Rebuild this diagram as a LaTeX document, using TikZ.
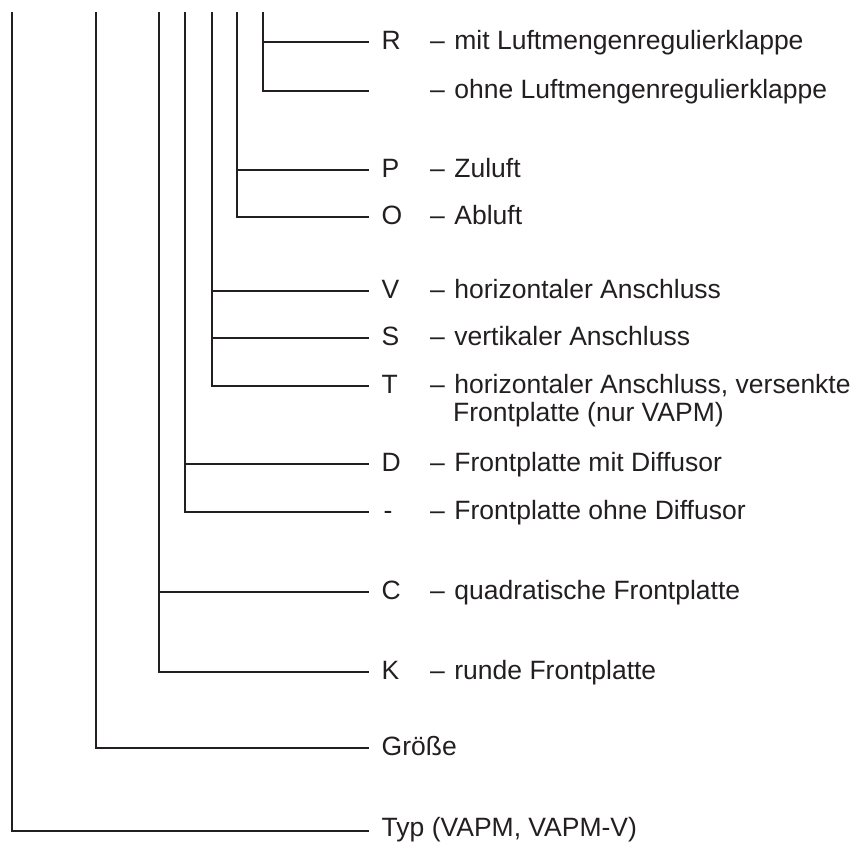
\documentclass[tikz,border=0pt]{standalone}
\usepackage{fontspec}
\setmainfont{Liberation Sans}
\definecolor{ink}{HTML}{231F20}
\newcommand{\dsh}{–\hspace{9.5pt}}
\begin{document}
\begin{tikzpicture}[x=1pt,y=-1pt,
  conn/.style={draw=ink,line width=2.1pt,line cap=rect,line join=miter},
  lab/.style={anchor=base west,inner sep=0pt,text=ink,font=\fontsize{26.5}{28}\selectfont}]
\useasboundingbox (0,0) rectangle (855,842);
% top ends of the vertical lines
\coordinate (t1) at (12,13);
\coordinate (t2) at (96,13);
\coordinate (t3) at (159,13);
\coordinate (t4) at (185,13);
\coordinate (t5) at (212,13);
\coordinate (t6) at (237,13);
\coordinate (t7) at (263,13);
% junctions
\coordinate (jR) at (263,42);   \coordinate (eR) at (368,42);
\coordinate (jN) at (263,91);   \coordinate (eN) at (368,91);
\coordinate (jP) at (237,170);  \coordinate (eP) at (368,170);
\coordinate (jO) at (237,217);  \coordinate (eO) at (368,217);
\coordinate (jV) at (212,291);  \coordinate (eV) at (368,291);
\coordinate (jS) at (212,338);  \coordinate (eS) at (368,338);
\coordinate (jT) at (212,386);  \coordinate (eT) at (368,386);
\coordinate (jD) at (185,464);  \coordinate (eD) at (368,464);
\coordinate (jH) at (185,512);  \coordinate (eH) at (368,512);
\coordinate (jC) at (159,592);  \coordinate (eC) at (368,592);
\coordinate (jK) at (159,672);  \coordinate (eK) at (368,672);
\coordinate (jG) at (96,748);   \coordinate (eG) at (368,748);
\coordinate (jY) at (12,831);   \coordinate (eY) at (368,831);
% connectors
\draw[conn] (t7) -- (jN) -- (eN);
\draw[conn] (jR) -- (eR);
\draw[conn] (t6) -- (jO) -- (eO);
\draw[conn] (jP) -- (eP);
\draw[conn] (t5) -- (jT) -- (eT);
\draw[conn] (jV) -- (eV);
\draw[conn] (jS) -- (eS);
\draw[conn] (t4) -- (jH) -- (eH);
\draw[conn] (jD) -- (eD);
\draw[conn] (t3) -- (jK) -- (eK);
\draw[conn] (jC) -- (eC);
\draw[conn] (t2) -- (jG) -- (eG);
\draw[conn] (t1) -- (jY) -- (eY);
% labels
\node[lab] (lR) at (381.5,49.5) {R};
\node[lab] (dR) at (430,49.5) {\dsh mit Luftmengenregulierklappe};
\node[lab] (dN) at (430,98.5) {\dsh ohne Luftmengenregulierklappe};
\node[lab] (lP) at (381.5,177.5) {P};
\node[lab] (dP) at (430,177.5) {\dsh Zuluft};
\node[lab] (lO) at (381.5,224.5) {O};
\node[lab] (dO) at (430,224.5) {\dsh Abluft};
\node[lab] (lV) at (381.5,298.5) {V};
\node[lab] (dV) at (430,298.5) {\dsh horizontaler Anschluss};
\node[lab] (lS) at (381.5,345.5) {S};
\node[lab] (dS) at (430,345.5) {\dsh vertikaler Anschluss};
\node[lab] (lT) at (381.5,393.5) {T};
\node[lab] (dT) at (430,393.5) {\dsh horizontaler Anschluss, versenkte};
\node[lab] (dT2) at (453,421.5) {Frontplatte (nur VAPM)};
\node[lab] (lD) at (381.5,471.5) {D};
\node[lab] (dD) at (430,471.5) {\dsh Frontplatte mit Diffusor};
\node[lab] (lH) at (383.5,519.5) {-};
\node[lab] (dH) at (430,519.5) {\dsh Frontplatte ohne Diffusor};
\node[lab] (lC) at (381.5,599.5) {C};
\node[lab] (dC) at (430,599.5) {\dsh quadratische Frontplatte};
\node[lab] (lK) at (381.5,679.5) {K};
\node[lab] (dK) at (430,679.5) {\dsh runde Frontplatte};
\node[lab] (lG) at (381.5,755.5) {Größe};
\node[lab] (lY) at (381.5,836.5) {Typ (VAPM, VAPM-V)};
\end{tikzpicture}
\end{document}
